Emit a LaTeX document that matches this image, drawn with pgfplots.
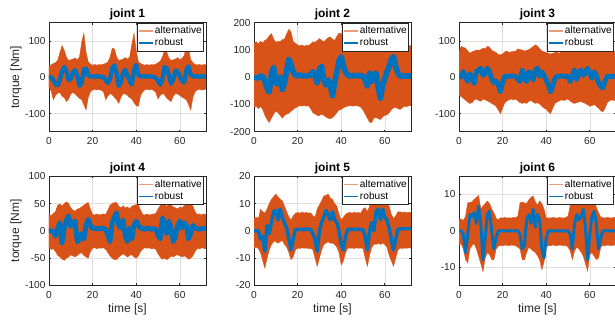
\documentclass[border=0pt]{standalone}
\usepackage{fontspec}
\setmainfont{Liberation Sans}
\usepackage{pgfplots}
\usepackage{pgfplotstable}
\pgfplotsset{compat=1.18}
\definecolor{morange}{RGB}{217,83,25}
\definecolor{mlight}{RGB}{234,156,120}
\definecolor{mblue}{RGB}{0,114,189}
\definecolor{axc}{RGB}{38,38,38}
\definecolor{gridc}{RGB}{223,223,223}

\pgfplotstableread[row sep=\\]{t up lo rob\\
0 30 -28 0\\ 1 34 -38 0\\ 2 38 -62 -8\\ 3 40 -50 -20\\ 4 46 -44 -22\\ 5 68 -42 -6\\ 6 87 -52 16\\ 7 74 -56 28\\ 8 55 -67 16\\ 9 46 -60 -8\\
10 48 -46 -4\\ 11 50 -42 14\\ 12 53 -46 20\\ 13 48 -52 4\\ 14 56 -58 -24\\ 15 96 -62 -16\\ 16 121 -76 22\\ 17 68 -90 24\\ 18 42 -56 6\\ 19 36 -40 2\\
20 33 -35 3\\ 21 35 -33 1\\ 22 33 -35 3\\ 23 35 -34 2\\ 24 34 -36 1\\ 25 36 -40 0\\ 26 38 -62 -8\\ 27 42 -52 -16\\ 28 55 -45 -5\\ 29 80 -48 25\\
30 78 -55 33\\ 31 56 -62 12\\ 32 46 -72 -24\\ 33 48 -55 -12\\ 34 50 -45 12\\ 35 54 -46 20\\ 36 50 -50 5\\ 37 56 -56 -10\\ 38 90 -60 -20\\ 39 121 -70 20\\
40 72 -78 34\\ 41 42 -80 6\\ 42 38 -50 2\\ 43 35 -40 2\\ 44 33 -34 3\\ 45 35 -33 1\\ 46 33 -35 3\\ 47 35 -34 2\\ 48 34 -36 1\\ 49 36 -42 -2\\
50 40 -60 -10\\ 51 44 -50 -20\\ 52 55 -45 -6\\ 53 75 -48 28\\ 54 70 -58 24\\ 55 52 -62 6\\ 56 46 -67 -18\\ 57 48 -52 -6\\ 58 50 -45 18\\ 59 54 -46 16\\
60 48 -50 2\\ 61 52 -55 -10\\ 62 60 -58 -14\\ 63 85 -62 20\\ 64 80 -75 30\\ 65 48 -90 6\\ 66 40 -55 3\\ 67 35 -40 2\\ 68 34 -35 3\\ 69 35 -33 1\\
70 33 -35 3\\ 71 35 -34 2\\ 72 34 -33 2\\
}\jA

\pgfplotstableread[row sep=\\]{t up lo rob\\
0 125 -110 0\\ 1 130 -105 -2\\ 2 122 -115 -3\\ 3 132 -108 5\\ 4 126 -118 2\\ 5 135 -140 -15\\ 6 140 -155 -40\\ 7 152 -166 -55\\ 8 160 -150 15\\ 9 140 -135 35\\
10 128 -124 -20\\ 11 132 -130 -25\\ 12 130 -140 0\\ 13 138 -150 -45\\ 14 140 -140 -20\\ 15 160 -135 25\\ 16 176 -132 65\\ 17 165 -125 45\\ 18 130 -118 20\\ 19 125 -112 8\\
20 118 -108 5\\ 21 115 -104 8\\ 22 118 -106 5\\ 23 114 -103 6\\ 24 117 -106 5\\ 25 116 -105 6\\ 26 122 -115 8\\ 27 130 -130 20\\ 28 128 -135 5\\ 29 135 -140 -20\\
30 142 -141 30\\ 31 135 -135 40\\ 32 130 -140 -10\\ 33 138 -146 -29\\ 34 145 -150 -10\\ 35 148 -152 -30\\ 36 140 -148 -68\\ 37 135 -140 -20\\ 38 150 -130 20\\ 39 162 -120 60\\
40 160 -118 75\\ 41 140 -112 40\\ 42 125 -108 20\\ 43 120 -106 8\\ 44 118 -104 5\\ 45 120 -106 6\\ 46 117 -105 5\\ 47 120 -104 7\\ 48 118 -106 5\\ 49 122 -110 6\\
50 125 -120 3\\ 51 130 -135 -10\\ 52 140 -150 -32\\ 53 150 -165 15\\ 54 152 -166 -15\\ 55 135 -150 10\\ 56 130 -148 15\\ 57 135 -152 -40\\ 58 140 -155 -77\\ 59 138 -145 -30\\
60 135 -140 -5\\ 61 145 -138 20\\ 62 158 -130 40\\ 63 165 -120 65\\ 64 168 -112 76\\ 65 140 -110 40\\ 66 125 -115 15\\ 67 120 -118 5\\ 68 118 -112 3\\ 69 115 -106 5\\
70 118 -108 4\\ 71 116 -105 5\\ 72 115 -104 4\\
}\jB

\pgfplotstableread[row sep=\\]{t up lo rob\\
0 70 -50 0\\ 1 85 -53 2\\ 2 82 -58 16\\ 3 80 -63 0\\ 4 72 -68 -12\\ 5 66 -72 10\\ 6 70 -70 -5\\ 7 72 -62 -17\\ 8 75 -60 16\\ 9 74 -64 20\\
10 76 -66 25\\ 11 80 -60 5\\ 12 78 -62 10\\ 13 85 -65 25\\ 14 83 -68 15\\ 15 74 -72 -5\\ 16 71 -75 -15\\ 17 68 -80 -10\\ 18 62 -90 -20\\ 19 62 -100 -40\\
20 64 -85 -15\\ 21 70 -70 3\\ 22 72 -65 3\\ 23 68 -62 2\\ 24 70 -60 4\\ 25 71 -62 3\\ 26 72 -60 2\\ 27 78 -65 -5\\ 28 76 -70 -12\\ 29 75 -72 20\\
30 72 -70 5\\ 31 74 -72 -12\\ 32 76 -66 15\\ 33 80 -64 10\\ 34 84 -68 -8\\ 35 89 -72 20\\ 36 86 -70 25\\ 37 78 -74 2\\ 38 72 -80 15\\ 39 70 -85 5\\
40 68 -88 -8\\ 41 66 -95 -20\\ 42 64 -100 -40\\ 43 66 -85 -25\\ 44 68 -72 -3\\ 45 70 -68 3\\ 46 65 -65 2\\ 47 70 -62 4\\ 48 72 -64 3\\ 49 78 -62 2\\
50 85 -60 3\\ 51 82 -65 -12\\ 52 76 -70 5\\ 53 74 -72 20\\ 54 75 -70 -6\\ 55 72 -68 10\\ 56 70 -66 20\\ 57 68 -70 5\\ 58 74 -72 12\\ 59 78 -76 25\\
60 80 -80 10\\ 61 85 -78 -3\\ 62 82 -75 15\\ 63 78 -80 5\\ 64 75 -85 -15\\ 65 72 -92 -25\\ 66 70 -95 -30\\ 67 72 -85 -10\\ 68 70 -70 2\\ 69 72 -65 3\\
70 68 -62 2\\ 71 70 -64 3\\ 72 72 -62 2\\
}\jC

\pgfplotstableread[row sep=\\]{t up lo rob\\
0 30 -32 0\\ 1 28 -34 0\\ 2 32 -33 -1\\ 3 35 -38 -10\\ 4 47 -45 5\\ 5 49 -48 15\\ 6 45 -52 -22\\ 7 50 -54 5\\ 8 53 -50 20\\ 9 50 -48 27\\
10 42 -44 8\\ 11 38 -46 15\\ 12 36 -48 18\\ 13 40 -45 -20\\ 14 41 -42 -16\\ 15 44 -40 -5\\ 16 47 -45 -15\\ 17 50 -48 10\\ 18 52 -50 21\\ 19 40 -38 10\\
20 30 -32 4\\ 21 29 -31 5\\ 22 31 -33 3\\ 23 29 -31 4\\ 24 30 -32 5\\ 25 31 -31 4\\ 26 30 -34 3\\ 27 38 -40 -8\\ 28 47 -46 -20\\ 29 50 -50 15\\
30 52 -53 25\\ 31 52 -53 33\\ 32 45 -48 10\\ 33 42 -45 5\\ 34 46 -42 20\\ 35 42 -45 -10\\ 36 44 -48 -20\\ 37 40 -45 5\\ 38 45 -44 -15\\ 39 47 -48 10\\
40 48 -50 18\\ 41 47 -46 10\\ 42 38 -38 5\\ 43 30 -33 4\\ 44 29 -31 3\\ 45 31 -32 5\\ 46 29 -31 4\\ 47 30 -33 3\\ 48 31 -32 4\\ 49 32 -34 3\\
50 40 -42 -8\\ 51 46 -48 -15\\ 52 50 -52 24\\ 53 48 -50 10\\ 54 45 -53 -5\\ 55 50 -50 18\\ 56 48 -46 5\\ 57 44 -48 -20\\ 58 42 -45 -10\\ 59 40 -44 10\\
60 44 -46 18\\ 61 42 -48 5\\ 62 46 -46 15\\ 63 48 -48 10\\ 64 50 -52 -15\\ 65 50 -50 -5\\ 66 45 -46 10\\ 67 35 -38 5\\ 68 30 -32 4\\ 69 31 -33 3\\
70 29 -31 4\\ 71 31 -32 5\\ 72 30 -33 4\\
}\jD

\pgfplotstableread[row sep=\\]{t up lo rob\\
0 4.8 -6.3 0\\ 1 5.0 -6.0 0\\ 2 4.5 -6.5 0\\ 3 7.9 -8.0 -3\\ 4 7.0 -11.0 -2\\ 5 6.5 -13.7 -7.5\\ 6 8.0 -10.0 2\\ 7 10.0 -7.0 -1\\ 8 11.6 -5.0 3\\ 9 12.5 -4.0 7\\
10 13.5 -4.0 7.5\\ 11 12.5 -4.5 4\\ 12 11.6 -4.0 8\\ 13 11.0 -3.5 5\\ 14 9.0 -5.0 3\\ 15 7.0 -6.0 1\\ 16 5.0 -8.0 -3\\ 17 4.0 -10.6 -7\\ 18 5.5 -9.5 -3\\ 19 6.5 -7.0 0.5\\
20 6.7 -6.3 0.5\\ 21 6.5 -6.5 0.6\\ 22 6.8 -6.2 0.4\\ 23 6.6 -6.4 0.6\\ 24 6.7 -6.3 0.5\\ 25 6.5 -6.5 0.6\\ 26 6.6 -6.4 0.5\\ 27 5.5 -7.0 -1\\ 28 5.0 -10.0 -3\\ 29 8.0 -13.0 -7.5\\
30 9.5 -10.0 0\\ 31 11.0 -7.0 3\\ 32 12.8 -5.0 5\\ 33 13.0 -4.5 7.5\\ 34 13.5 -4.0 6\\ 35 12.0 -4.5 4\\ 36 11.5 -4.5 7\\ 37 10.0 -5.0 4\\ 38 9.0 -6.0 3\\ 39 6.0 -8.0 0\\
40 4.0 -12.5 -5\\ 41 5.0 -11.0 -7\\ 42 6.0 -8.0 -2\\ 43 6.6 -6.3 0.5\\ 44 6.7 -6.4 0.6\\ 45 6.5 -6.3 0.5\\ 46 6.8 -6.5 0.6\\ 47 6.6 -6.2 0.5\\ 48 6.7 -6.4 0.6\\ 49 6.5 -6.3 0.5\\
50 8.0 -6.5 0.4\\ 51 8.5 -10.0 -2\\ 52 7.0 -13.0 -7\\ 53 9.0 -9.0 0\\ 54 12.2 -6.0 3\\ 55 12.5 -5.0 0\\ 56 13.0 -5.0 7\\ 57 12.5 -4.5 8\\ 58 11.6 -5.0 4\\ 59 11.0 -4.5 8\\
60 10.5 -5.0 5\\ 61 10.0 -6.0 4\\ 62 9.0 -9.0 1\\ 63 6.0 -11.0 -3\\ 64 4.5 -13.0 -7\\ 65 5.5 -10.0 -3\\ 66 7.0 -7.0 0.5\\ 67 7.0 -6.3 0.8\\ 68 6.7 -6.5 0.7\\ 69 6.9 -6.3 0.8\\
70 6.6 -6.4 0.7\\ 71 6.8 -6.2 0.8\\ 72 6.7 -6.4 0.8\\
}\jE

\pgfplotstableread[row sep=\\]{t up lo rob\\
0 3.1 -3.8 0\\ 1 3.3 -3.6 0\\ 2 2.8 -5.0 -1\\ 3 4.0 -7.9 -6\\ 4 7.7 -8.8 -1\\ 5 7.8 -5.0 4.5\\ 6 8.0 -4.0 4\\ 7 8.7 -3.5 5\\ 8 9.2 -5.0 2\\ 9 9.7 -7.0 6.8\\
10 6.0 -9.0 2\\ 11 6.8 -11.2 -8\\ 12 7.5 -7.5 -2\\ 13 8.2 -6.0 4.5\\ 14 7.5 -6.5 5.4\\ 15 6.0 -7.9 0\\ 16 5.0 -8.0 -5\\ 17 3.5 -5.0 -2\\ 18 3.0 -4.2 0\\ 19 3.6 -4.0 0\\
20 3.5 -4.1 0\\ 21 3.7 -3.9 0\\ 22 3.5 -4.0 0\\ 23 3.6 -4.1 0\\ 24 3.5 -3.9 0\\ 25 3.7 -4.0 0\\ 26 3.6 -4.1 0\\ 27 4.0 -4.5 0\\ 28 7.7 -5.0 -1\\ 29 7.9 -7.9 -5\\
30 7.7 -8.0 -4\\ 31 7.5 -6.0 3\\ 32 8.5 -4.5 4.5\\ 33 9.2 -5.0 2\\ 34 9.6 -5.5 5.9\\ 35 8.0 -6.0 1\\ 36 7.0 -6.8 4.5\\ 37 8.2 -8.0 3\\ 38 7.5 -10.7 -5\\ 39 6.0 -8.5 -7.5\\
40 3.5 -4.5 -2\\ 41 3.6 -4.0 0\\ 42 3.5 -4.1 0\\ 43 3.7 -3.9 0\\ 44 3.6 -4.0 0\\ 45 3.5 -4.1 0\\ 46 3.7 -3.9 0\\ 47 3.6 -4.0 0\\ 48 3.5 -4.1 0\\ 49 3.7 -4.0 0\\
50 4.0 -4.5 0\\ 51 7.0 -5.5 -1\\ 52 7.7 -7.9 -5\\ 53 7.7 -5.5 2\\ 54 8.0 -4.5 4.5\\ 55 8.7 -5.0 3\\ 56 9.2 -5.8 4\\ 57 9.7 -7.0 5.9\\ 58 8.0 -9.0 1\\ 59 7.7 -11.0 -8\\
60 7.0 -6.5 -1\\ 61 8.0 -6.0 4\\ 62 8.2 -7.0 5.4\\ 63 6.5 -7.9 2\\ 64 5.0 -7.5 -5\\ 65 3.8 -4.5 -2\\ 66 3.6 -4.0 0\\ 67 3.5 -4.1 0\\ 68 3.7 -3.9 0\\ 69 3.6 -4.0 0\\
70 3.5 -4.1 0\\ 71 3.7 -3.9 0\\ 72 3.6 -4.0 0\\
}\jF

\pgfplotsset{
  joint/.style={
    scale only axis, width=117.75pt, height=81.75pt, anchor=south west,
    xmin=0, xmax=72, xtick={0,20,40,60},
    grid=major, major grid style={line width=0.45pt, draw=gridc},
    axis line style={draw=axc, line width=0.55pt},
    tick style={draw=axc, line width=0.5pt},
    tick align=inside, major tick length=1.6pt,
    ticklabel style={font=\fontsize{7.6}{9}\selectfont, text=axc},
    /pgf/number format/assume math mode=true,
    yticklabel style={xshift=0.9pt},
    xticklabel style={yshift=-1pt},
    every axis title/.style={font=\fontsize{9}{10}\selectfont\bfseries, at={(axis description cs:0.5,1.074)}, anchor=center, text=black},
    label style={font=\fontsize{9}{10}\selectfont, text=axc},
    ylabel style={at={(axis description cs:-0.21,0.5)}, anchor=center},
    xlabel style={at={(axis description cs:0.5,-0.223)}, anchor=center},
    legend style={at={(0.987,1)}, anchor=north east, draw=axc, line width=0.5pt, fill=white,
      font=\fontsize{7.6}{8}\selectfont, inner xsep=0.8pt, inner ysep=0.9pt, row sep=-1.2pt,
      cells={anchor=west}, nodes={inner xsep=0.6pt, inner ysep=1.6pt, text=black}},
    legend image code/.code={\draw[##1] (0pt,0pt) -- (10.8pt,0pt);},
  },
}

\newcommand{\jointplots}[2]{%
  \addplot[draw=none, fill=none, stack plots=y, forget plot] table[x=t, y=lo] {#1};
  \addplot[fill=morange, draw=morange, line width=0.3pt, stack plots=y, forget plot] table[x=t, y expr=\thisrow{up}-\thisrow{lo}] {#1} \closedcycle;
  \addplot[mblue, line width=#2, line join=round, stack plots=false, forget plot] table[x=t, y=rob] {#1};
  \addlegendimage{mlight, line width=1.2pt}
  \addlegendentry{alternative}
  \addlegendimage{mblue, line width=1.2pt}
  \addlegendentry{robust}
}

\begin{document}
\begin{tikzpicture}

\begin{axis}[joint, at={(36.75pt,142.7pt)}, title={joint 1}, ylabel={torque [Nm]},
  ymin=-150, ymax=150, ytick={-100,0,100}]
  \jointplots{\jA}{3.2pt}
\end{axis}

\begin{axis}[joint, at={(190.5pt,142.7pt)}, title={joint 2},
  ymin=-200, ymax=200, ytick={-200,-100,0,100,200}]
  \jointplots{\jB}{4.2pt}
\end{axis}

\begin{axis}[joint, at={(344.25pt,142.7pt)}, title={joint 3},
  ymin=-150, ymax=150, ytick={-100,0,100}]
  \jointplots{\jC}{3.6pt}
\end{axis}

\begin{axis}[joint, at={(36.75pt,27.5pt)}, title={joint 4}, ylabel={torque [Nm]}, xlabel={time [s]},
  ymin=-100, ymax=100, ytick={-100,-50,0,50,100}]
  \jointplots{\jD}{3.6pt}
\end{axis}

\begin{axis}[joint, at={(190.5pt,27.5pt)}, title={joint 5}, xlabel={time [s]},
  ymin=-20, ymax=20, ytick={-20,-10,0,10,20}]
  \jointplots{\jE}{2.6pt}
\end{axis}

\begin{axis}[joint, at={(344.25pt,27.5pt)}, title={joint 6}, xlabel={time [s]},
  ymin=-15, ymax=15, ytick={-10,0,10}]
  \jointplots{\jF}{2.2pt}
\end{axis}

\pgfresetboundingbox
\useasboundingbox (0,0) rectangle (461.25pt,241.5pt);
\end{tikzpicture}
\end{document}
